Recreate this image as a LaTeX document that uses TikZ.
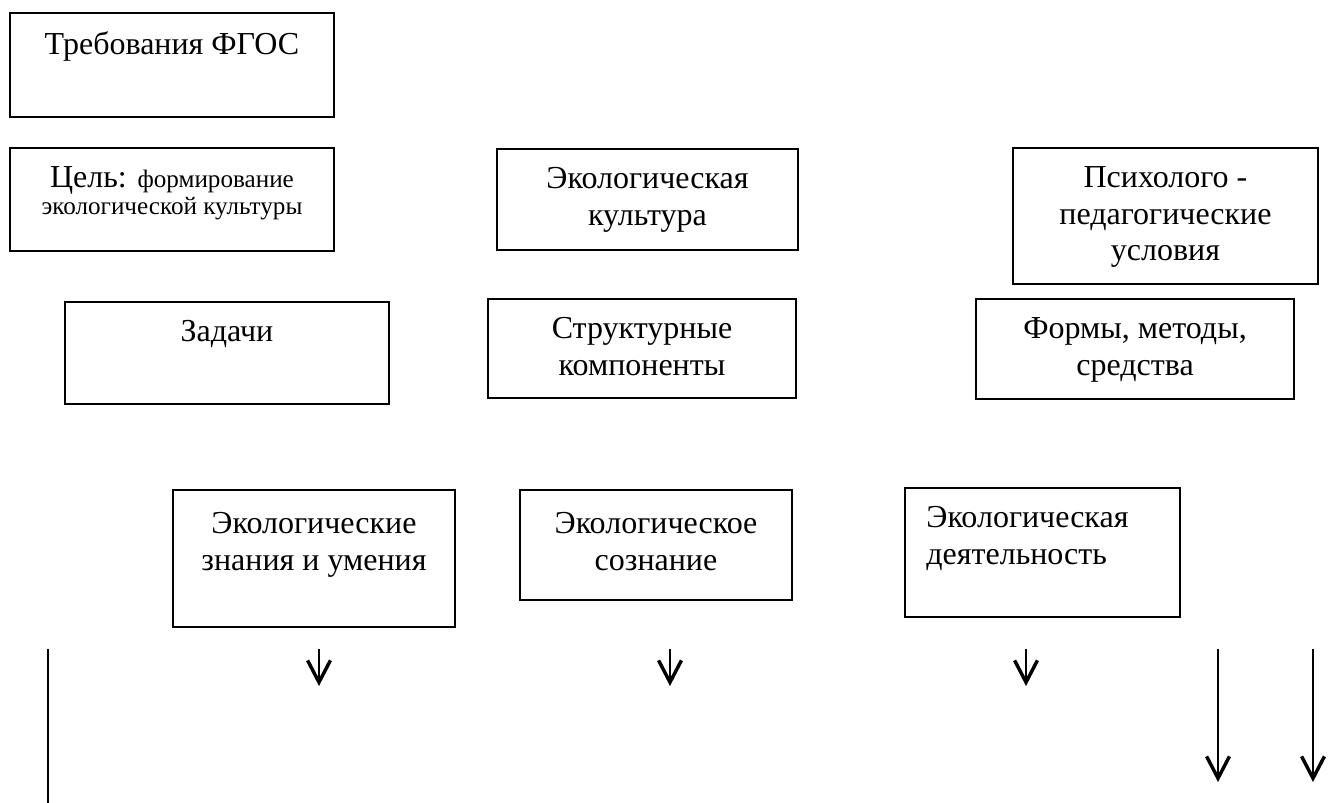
\documentclass[tikz,border=0pt]{standalone}
\usepackage{fontspec}
\setmainfont{Liberation Serif}
\usetikzlibrary{positioning, fit, arrows.meta}

\tikzset{
	box/.style={draw, line width=0.9pt, inner sep=0pt},
	txt/.style={align=center, inner sep=0pt, font=\fontsize{14pt}{16pt}\selectfont},
	arr/.style={line width=0.9pt, -{Straight Barb[length=9.6pt, width=10pt, line width=1.5pt]}}
}

\begin{document}
\begin{tikzpicture}[x=0.4375pt, y=-0.4375pt]
	\useasboundingbox (0,0) rectangle (1328,803);
	% Boxes:
	\node[box, fit={(10,13) (334,117)}] (req) {};
	\node[box, fit={(10,148) (334,251)}] (goal) {};
	\node[box, fit={(497,149) (798,250)}] (culture) {};
	\node[box, fit={(1013,148) (1318,284)}] (cond) {};
	\node[box, fit={(65,302) (389,404)}] (tasks) {};
	\node[box, fit={(488,299) (796,398)}] (struct) {};
	\node[box, fit={(976,299) (1294,399)}] (forms) {};
	\node[box, fit={(173,490) (455,627)}] (know) {};
	\node[box, fit={(520,490) (792,600)}] (consc) {};
	\node[box, fit={(905,488) (1180,617)}] (act) {};
	% Texts:
	\node[txt, below=8.4pt of req.north] (reqT) {Требования ФГОС};
	\node[txt, below=8.4pt of goal.north] (goalT) {Цель: {\fontsize{11pt}{13pt}\selectfont формирование}\\[-4.2pt]
		{\fontsize{11pt}{13pt}\selectfont экологической культуры}};
	\node[txt, below=8.4pt of culture.north] (cultureT) {Экологическая\\культура};
	\node[txt, below=8.4pt of cond.north] (condT) {Психолого -\\педагогические\\условия};
	\node[txt, below=8.4pt of tasks.north] (tasksT) {Задачи};
	\node[txt, below=8.4pt of struct.north] (structT) {Структурные\\компоненты};
	\node[txt, below=8.4pt of forms.north] (formsT) {Формы, методы,\\средства};
	\node[txt, below=10pt of know.north] (knowT) {Экологические\\знания и умения};
	\node[txt, below=10pt of consc.north] (conscT) {Экологическое\\сознание};
	\node[txt, align=left, below right=8.4pt and 9.6pt of act.north west] (actT) {Экологическая\\деятельность};
	% Arrows:
	\foreach \n/\x in {a/319, b/670, c/1026} {
		\coordinate (\n s) at (\x,649);
		\coordinate (\n e) at (\x,686);
		\draw[arr] (\n s) -- (\n e);
	}
	\foreach \n/\x in {d/1218, e/1313} {
		\coordinate (\n s) at (\x,649);
		\coordinate (\n e) at (\x,782);
		\draw[arr] (\n s) -- (\n e);
	}
	\coordinate (ls) at (48,649);
	\coordinate (le) at (48,803);
	\draw[line width=0.9pt] (ls) -- (le);
\end{tikzpicture}
\end{document}
